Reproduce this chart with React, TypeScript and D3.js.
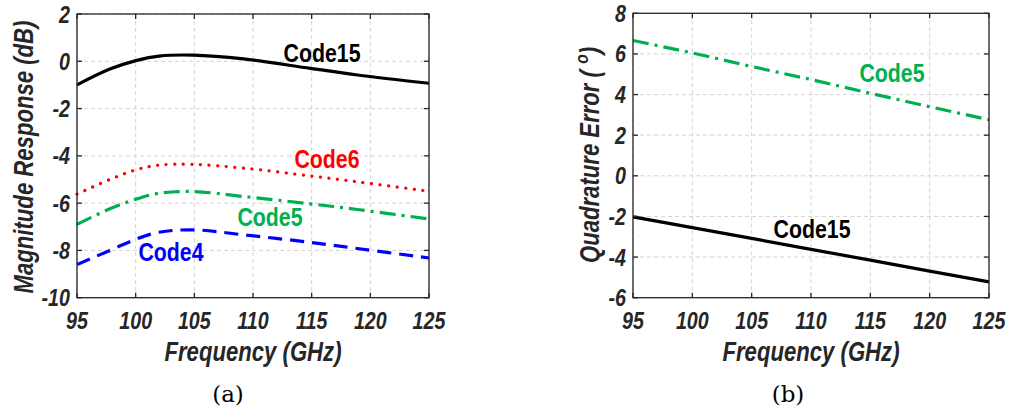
import React from "react";
import * as d3 from "d3";

const freqA = [95, 97.8, 100.1, 102, 104.9, 109.2, 114.9, 118.9, 125];
const code15A = [-1.0, -0.33, 0.04, 0.22, 0.26, 0.1, -0.3, -0.58, -0.93];
const code6A = [-5.62, -5.0, -4.58, -4.39, -4.36, -4.52, -4.85, -5.1, -5.5];
const code5A = [-6.9, -6.24, -5.82, -5.58, -5.51, -5.72, -6.03, -6.27, -6.67];
const code4A = [-8.6, -8.0, -7.51, -7.23, -7.13, -7.34, -7.66, -7.92, -8.32];

const freqB = [95, 100, 105, 110, 115, 120, 125];
const code5B = [6.66, 6.05, 5.38, 4.74, 4.06, 3.4, 2.76];
const code15B = [-2.02, -2.55, -3.08, -3.62, -4.15, -4.69, -5.22];

const xTicks = [95, 100, 105, 110, 115, 120, 125];
const yTicksA = [2, 0, -2, -4, -6, -8, -10];
const yTicksB = [8, 6, 4, 2, 0, -2, -4, -6];

const TXT = "#262626";
const SANS = "'Liberation Sans', Arial, sans-serif";
const SX = 0.82;

function NText(props: {
  x: number; y: number; size: number; anchor?: string; italic?: boolean; color?: string; rotate?: number;
  children: React.ReactNode;
}) {
  const { x, y, size, anchor = "middle", italic = false, color = TXT, rotate = 0 } = props;
  return (
    <text transform={`translate(${x},${y}) rotate(${rotate}) scale(${SX},1)`} textAnchor={anchor as any}
      fontFamily={SANS} fontWeight="bold" fontStyle={italic ? "italic" : "normal"} fontSize={size} fill={color}>
      {props.children}
    </text>
  );
}

type Series = { xs: number[]; ys: number[]; color: string; dash: string; cap: string; curve: any };
type Label = { text: string; x: number; y: number; color: string };

function Panel(props: {
  left: number; right: number; top: number; bottom: number;
  yDomain: [number, number]; yTicks: number[];
  series: Series[]; labels: Label[];
  yTitle: React.ReactNode; yTitleX: number; yTitleY: number;
  caption: string; captionX: number;
}) {
  const { left, right, top, bottom, yDomain, yTicks, series, labels } = props;
  const x = d3.scaleLinear().domain([95, 125]).range([left, right]);
  const y = d3.scaleLinear().domain(yDomain).range([bottom, top]);
  const tickLen = 5;
  return (
    <g>
      {xTicks.map((t) => (
        <line key={"gx" + t} x1={x(t)} x2={x(t)} y1={top} y2={bottom} stroke="#d4d4d4" strokeWidth={1} strokeDasharray="4,3" />
      ))}
      {yTicks.map((t) => (
        <line key={"gy" + t} x1={left} x2={right} y1={y(t)} y2={y(t)} stroke="#d4d4d4" strokeWidth={1} strokeDasharray="4,3" />
      ))}
      {series.map((s, i) => {
        const line = d3.line<number>().x((_, j) => x(s.xs[j])).y((v) => y(v)).curve(s.curve);
        return (
          <path key={"s" + i} d={line(s.ys) || ""} fill="none" stroke={s.color} strokeWidth={3.2}
            strokeDasharray={s.dash} strokeLinecap={s.cap as any} />
        );
      })}
      <rect x={left} y={top} width={right - left} height={bottom - top} fill="none" stroke={TXT} strokeWidth={1.3} />
      {xTicks.map((t) => (
        <g key={"tx" + t}>
          <line x1={x(t)} x2={x(t)} y1={bottom} y2={bottom - tickLen} stroke={TXT} strokeWidth={1.3} />
          <line x1={x(t)} x2={x(t)} y1={top} y2={top + tickLen} stroke={TXT} strokeWidth={1.3} />
          <NText x={x(t)} y={bottom + 31} size={24} italic>{t}</NText>
        </g>
      ))}
      {yTicks.map((t) => (
        <g key={"ty" + t}>
          <line x1={left} x2={left + tickLen} y1={y(t)} y2={y(t)} stroke={TXT} strokeWidth={1.3} />
          <line x1={right} x2={right - tickLen} y1={y(t)} y2={y(t)} stroke={TXT} strokeWidth={1.3} />
          <NText x={left - 7} y={y(t) + 8.5} size={24} anchor="end" italic>{t}</NText>
        </g>
      ))}
      {labels.map((l, i) => (
        <NText key={"l" + i} x={l.x} y={l.y} size={26} color={l.color}>{l.text}</NText>
      ))}
      <NText x={(left + right) / 2} y={361} size={27} italic>Frequency (GHz)</NText>
      <NText x={props.yTitleX} y={props.yTitleY} size={27} italic rotate={-90}>{props.yTitle}</NText>
      <text x={props.captionX} y={402} textAnchor="middle" fontFamily="'DejaVu Serif', serif" fontSize={23} fill="#000">{props.caption}</text>
    </g>
  );
}

export default function App() {
  const smooth = d3.curveCatmullRom.alpha(0.5);
  const seriesA: Series[] = [
    { xs: freqA, ys: code15A, color: "#000000", dash: "", cap: "butt", curve: smooth },
    { xs: freqA, ys: code6A, color: "#ff0000", dash: "0.1,8.5", cap: "round", curve: smooth },
    { xs: freqA, ys: code5A, color: "#00b050", dash: "16,6,3,6", cap: "butt", curve: smooth },
    { xs: freqA, ys: code4A, color: "#0000ff", dash: "14,8", cap: "butt", curve: smooth },
  ];
  const seriesB: Series[] = [
    { xs: freqB, ys: code5B, color: "#00b050", dash: "16,6,3,6", cap: "butt", curve: d3.curveLinear },
    { xs: freqB, ys: code15B, color: "#000000", dash: "", cap: "butt", curve: d3.curveLinear },
  ];
  const labelsA: Label[] = [
    { text: "Code15", x: 322, y: 62, color: "#000000" },
    { text: "Code6", x: 327, y: 168, color: "#ff0000" },
    { text: "Code5", x: 270, y: 226, color: "#00b050" },
    { text: "Code4", x: 171, y: 261, color: "#0000ff" },
  ];
  const labelsB: Label[] = [
    { text: "Code5", x: 892, y: 82, color: "#00b050" },
    { text: "Code15", x: 812, y: 238, color: "#000000" },
  ];
  return (
    <svg width={1011} height={412} style={{ position: "absolute", left: 0, top: 0, background: "#fff" }}>
      <rect width={1011} height={412} fill="#fff" />
      <Panel left={77} right={429} top={14} bottom={297.7} yDomain={[-10, 2]} yTicks={yTicksA}
        series={seriesA} labels={labelsA}
        yTitle="Magnitude Response (dB)" yTitleX={33} yTitleY={157}
        caption="(a)" captionX={228} />
      <Panel left={633} right={989} top={13.3} bottom={297.7} yDomain={[-6, 8]} yTicks={yTicksB}
        series={seriesB} labels={labelsB}
        yTitle={<>Quadrature Error ( <tspan dy={-11} fontSize={19}>o</tspan><tspan dy={11}>)</tspan></>}
        yTitleX={599} yTitleY={155}
        caption="(b)" captionX={788} />
    </svg>
  );
}
